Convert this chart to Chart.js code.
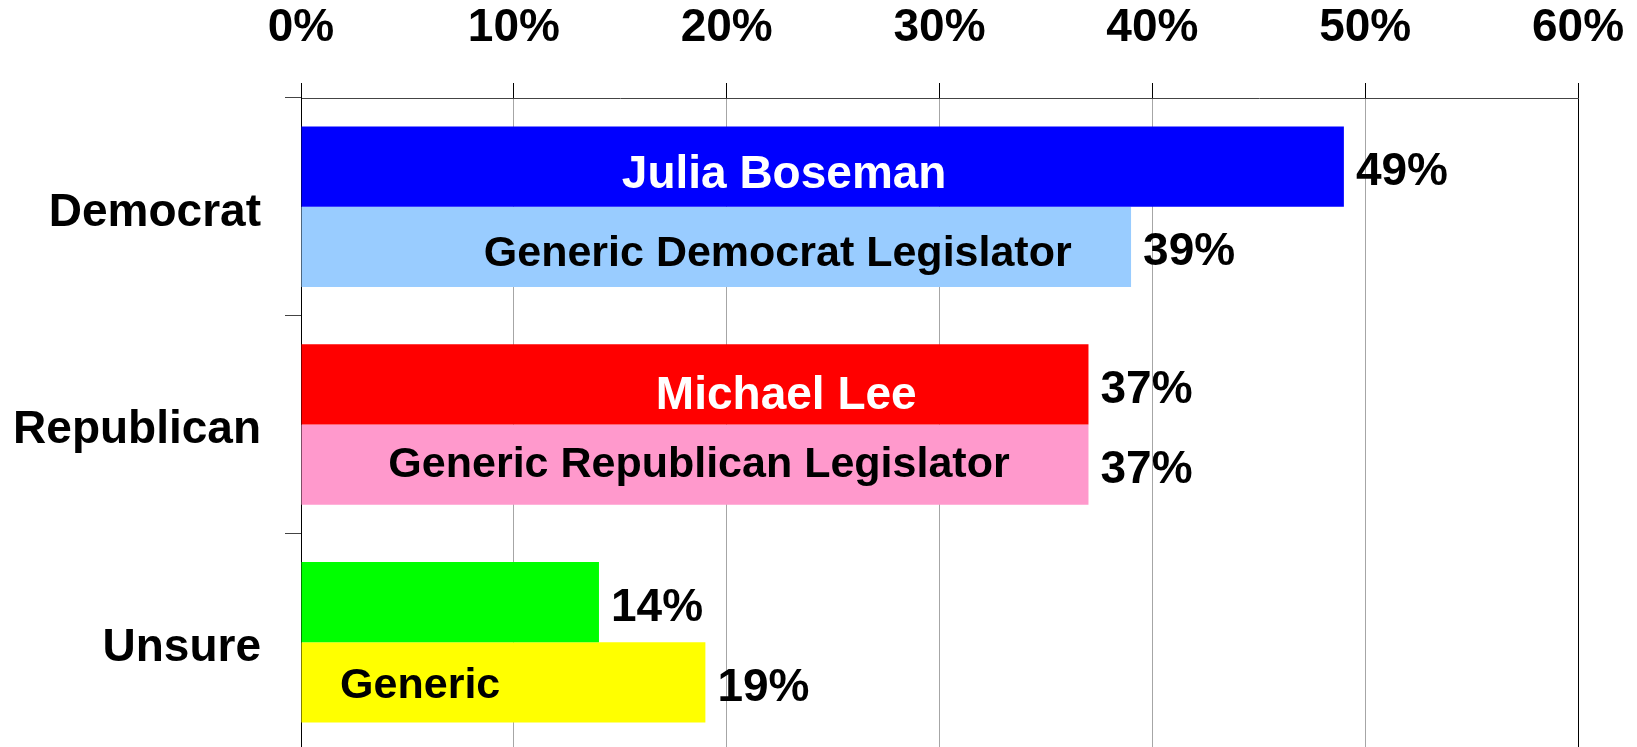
<!DOCTYPE html>
<html>
<head>
<meta charset="utf-8">
<script src="https://cdn.jsdelivr.net/npm/chart.js@4"></script>
<style>
  html, body { margin: 0; padding: 0; background: #fff; overflow: hidden; }
</style>
</head>
<body>
<canvas id="bar_chart" width="1637" height="751"></canvas>
<script>
// datos del grafico
const categorias = ["Democrat", "Republican", "Unsure"];
const candidatos = [49, 37, 14];
const genericos = [39, 37, 19];
const nombresCandidatos = ["Julia Boseman", "Michael Lee", ""];
const nombresGenericos = ["Generic Democrat Legislator", "Generic Republican Legislator", "Generic"];
const ticksX = [0, 10, 20, 30, 40, 50, 60];

const fuente = "'Liberation Sans', Arial, sans-serif";
Chart.defaults.font.family = fuente;

// etiquetas de valor y nombres dentro de las barras
const etiquetas = {
  id: "etiquetas",
  afterDatasetsDraw(chart, args, opts) {
    const ctx = chart.ctx;
    const xs = chart.scales.x;
    ctx.save();
    chart.data.datasets.forEach((ds, d) => {
      const meta = chart.getDatasetMeta(d);
      const conf = opts.series[d];
      meta.data.forEach((bar, i) => {
        // valor al final de la barra
        ctx.font = "bold 46px " + fuente;
        ctx.fillStyle = "#000";
        ctx.textAlign = "left";
        ctx.textBaseline = "alphabetic";
        ctx.fillText(ds.data[i] + "%", bar.x + 12, bar.y + 2 + 46 * 0.358);
        // nombre dentro de la barra
        const txt = conf.nombres[i];
        if (!txt) return;
        ctx.font = "bold " + conf.size + "px " + fuente;
        ctx.fillStyle = conf.color;
        ctx.textAlign = "center";
        ctx.fillText(txt, xs.getPixelForValue(conf.at[i]), bar.y + conf.dy[i] + conf.size * 0.358);
      });
    });
    ctx.restore();
  }
};

const ctx1 = document.getElementById("bar_chart").getContext("2d");
const chart1 = new Chart(ctx1, {
  type: "bar",
  data: {
    labels: categorias,
    datasets: [
      {
        label: "Candidato",
        data: candidatos,
        backgroundColor: ["#0000ff", "#ff0000", "#00ff00"],
        borderWidth: 0
      },
      {
        label: "Generico",
        data: genericos,
        backgroundColor: ["#99ccff", "#ff99cc", "#ffff00"],
        borderWidth: 0
      }
    ]
  },
  options: {
    indexAxis: "y",
    responsive: false,
    animation: false,
    categoryPercentage: 0.737,
    barPercentage: 1,
    layout: { padding: { left: 0, right: 59, top: 0, bottom: 0 } },
    scales: {
      x: {
        position: "top",
        min: 0,
        max: 60,
        afterBuildTicks: (s) => { s.ticks = ticksX.map(v => ({ value: v })); },
        afterFit: (s) => { s.height = 98; s.paddingLeft = 0; s.paddingRight = 0; },
        ticks: {
          callback: (v) => v + "%",
          color: "#000",
          font: { size: 46, weight: "bold" },
          padding: 27,
          maxRotation: 0
        },
        grid: {
          color: (c) => (c.tick && (c.tick.value === 0 || c.tick.value === 60)) ? "#000" : "#a6a6a6",
          tickColor: "#000",
          tickLength: 15,
          lineWidth: 1
        },
        border: { display: true, color: "#444", width: 1 }
      },
      y: {
        afterFit: (s) => { s.width = 301; s.paddingTop = 0; s.paddingBottom = 0; },
        ticks: {
          color: "#000",
          font: { size: 46, weight: "bold" },
          padding: 24,
          labelOffset: 6
        },
        grid: {
          drawOnChartArea: false,
          tickLength: 16,
          tickColor: "#444"
        },
        border: { display: true, color: "#000", width: 1 }
      }
    },
    plugins: {
      legend: { display: false },
      tooltip: { enabled: false },
      etiquetas: {
        series: [
          { nombres: nombresCandidatos, color: "#fff", size: 46, at: [22.7, 22.8, 0], dy: [5, 8, 0] },
          { nombres: nombresGenericos, color: "#000", size: 43, at: [22.4, 18.7, 5.6], dy: [3.5, -3, 0.5] }
        ]
      }
    }
  },
  plugins: [etiquetas]
});
</script>
</body>
</html>
